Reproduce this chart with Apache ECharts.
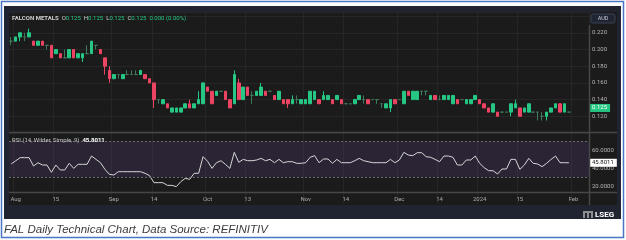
<!DOCTYPE html>
<html><head><meta charset="utf-8">
<script src="https://cdn.jsdelivr.net/npm/echarts@6/dist/echarts.min.js"></script>
<style>html,body{margin:0;padding:0;background:#fff}#c{width:626px;height:240px}</style>
</head><body><div id="c"></div>
<script>
const dates = [
'2023-07-31',
'2023-08-01','2023-08-02','2023-08-03','2023-08-04','2023-08-07','2023-08-08','2023-08-10','2023-08-11','2023-08-14','2023-08-15',
'2023-08-16','2023-08-17','2023-08-18','2023-08-21','2023-08-22','2023-08-23','2023-08-24','2023-08-25','2023-08-28','2023-08-29','2023-08-30','2023-08-31',
'2023-09-01','2023-09-04','2023-09-05','2023-09-06','2023-09-07','2023-09-08','2023-09-11','2023-09-12','2023-09-13','2023-09-14',
'2023-09-15','2023-09-18','2023-09-19','2023-09-20','2023-09-21','2023-09-22','2023-09-25','2023-09-26','2023-09-27','2023-09-28','2023-09-29',
'2023-10-02','2023-10-03','2023-10-04','2023-10-05','2023-10-06','2023-10-09','2023-10-10','2023-10-11','2023-10-12','2023-10-13',
'2023-10-16','2023-10-17','2023-10-18','2023-10-19','2023-10-20','2023-10-23','2023-10-24','2023-10-25','2023-10-26','2023-10-27','2023-10-30','2023-10-31',
'2023-11-01','2023-11-02','2023-11-03','2023-11-06','2023-11-07','2023-11-08','2023-11-09','2023-11-10','2023-11-13','2023-11-14',
'2023-11-15','2023-11-16','2023-11-17','2023-11-20','2023-11-21','2023-11-22','2023-11-24','2023-11-27','2023-11-28','2023-11-29','2023-11-30',
'2023-12-01','2023-12-04','2023-12-05','2023-12-06','2023-12-07','2023-12-08','2023-12-11','2023-12-12','2023-12-13','2023-12-14',
'2023-12-15','2023-12-18','2023-12-19','2023-12-20','2023-12-21','2023-12-27','2023-12-28','2023-12-29',
'2024-01-02','2024-01-03','2024-01-04','2024-01-05','2024-01-08','2024-01-09','2024-01-10','2024-01-11','2024-01-12','2024-01-15',
'2024-01-16','2024-01-17','2024-01-18','2024-01-19','2024-01-22','2024-01-23','2024-01-24','2024-01-25','2024-01-29','2024-01-30','2024-01-31',
'2024-02-01','2024-02-02','2024-02-05','2024-02-06'];

const open = [
0.210,0.210,0.215,0.215,0.215,0.210,0.205,0.210,0.205,0.205,
0.195,0.195,0.190,0.190,0.200,0.190,0.190,0.195,0.195,0.205,
0.200,0.190,0.175,0.165,0.170,0.165,0.170,0.170,0.170,0.170,
0.170,0.165,0.160,0.140,0.135,0.135,0.125,0.125,0.125,0.130,
0.135,0.130,0.135,0.135,0.155,0.150,0.145,0.150,0.150,0.140,
0.135,0.160,0.140,0.155,0.145,0.145,0.145,0.150,0.150,0.145,
0.140,0.140,0.140,0.135,0.140,0.135,0.135,0.135,0.140,0.140,
0.140,0.140,0.140,0.140,0.140,0.135,0.135,0.135,0.140,0.140,
0.140,0.140,0.140,0.135,0.130,0.130,0.140,0.140,0.135,0.150,
0.140,0.140,0.150,0.150,0.140,0.145,0.140,0.140,0.140,0.135,
0.140,0.140,0.135,0.135,0.140,0.140,0.135,0.130,0.125,0.125,
0.125,0.125,0.125,0.130,0.130,0.125,0.125,0.125,0.125,0.120,
0.120,0.125,0.130,0.135,0.125,0.125];
const high = [
0.215,0.215,0.220,0.220,0.225,0.210,0.210,0.210,0.205,0.205,
0.200,0.195,0.200,0.200,0.200,0.195,0.195,0.205,0.210,0.205,
0.200,0.190,0.180,0.170,0.170,0.170,0.175,0.175,0.175,0.175,
0.170,0.165,0.160,0.140,0.140,0.135,0.130,0.130,0.130,0.135,
0.140,0.135,0.150,0.160,0.155,0.150,0.150,0.150,0.150,0.140,
0.175,0.165,0.155,0.155,0.150,0.150,0.160,0.150,0.150,0.145,
0.150,0.140,0.140,0.145,0.145,0.140,0.140,0.150,0.150,0.140,
0.150,0.145,0.140,0.145,0.140,0.135,0.135,0.140,0.145,0.145,
0.140,0.140,0.140,0.135,0.135,0.140,0.140,0.140,0.150,0.150,
0.150,0.150,0.150,0.150,0.145,0.145,0.145,0.145,0.145,0.145,
0.140,0.140,0.140,0.140,0.145,0.140,0.135,0.130,0.135,0.125,
0.125,0.125,0.135,0.140,0.130,0.130,0.135,0.125,0.125,0.125,
0.125,0.130,0.135,0.135,0.135,0.125];
const low = [
0.205,0.210,0.210,0.210,0.215,0.205,0.205,0.205,0.200,0.190,
0.195,0.190,0.190,0.190,0.190,0.190,0.185,0.195,0.195,0.200,
0.195,0.170,0.160,0.165,0.165,0.165,0.170,0.170,0.170,0.170,
0.165,0.160,0.130,0.135,0.135,0.130,0.125,0.125,0.125,0.130,
0.130,0.130,0.135,0.135,0.150,0.135,0.145,0.150,0.140,0.130,
0.135,0.140,0.140,0.145,0.135,0.145,0.145,0.145,0.150,0.140,
0.140,0.135,0.130,0.135,0.135,0.135,0.135,0.135,0.140,0.135,
0.140,0.140,0.135,0.140,0.135,0.135,0.135,0.135,0.140,0.135,
0.135,0.140,0.135,0.130,0.130,0.125,0.135,0.140,0.135,0.145,
0.140,0.140,0.145,0.145,0.140,0.140,0.140,0.140,0.140,0.135,
0.135,0.140,0.135,0.135,0.140,0.135,0.130,0.125,0.125,0.120,
0.125,0.125,0.120,0.130,0.120,0.125,0.125,0.125,0.115,0.115,
0.115,0.125,0.130,0.125,0.125,0.125];
const close = [
0.210,0.215,0.220,0.215,0.220,0.205,0.210,0.205,0.205,0.190,
0.200,0.190,0.190,0.200,0.190,0.195,0.195,0.195,0.210,0.205,
0.195,0.180,0.165,0.170,0.170,0.170,0.170,0.170,0.170,0.175,
0.165,0.160,0.140,0.140,0.140,0.130,0.130,0.130,0.130,0.135,
0.130,0.135,0.140,0.160,0.150,0.135,0.150,0.150,0.140,0.130,
0.170,0.140,0.155,0.145,0.145,0.150,0.155,0.145,0.150,0.140,
0.150,0.135,0.135,0.140,0.140,0.140,0.140,0.150,0.150,0.135,
0.145,0.145,0.135,0.145,0.135,0.135,0.135,0.140,0.145,0.140,
0.135,0.140,0.140,0.135,0.135,0.140,0.135,0.140,0.150,0.145,
0.150,0.150,0.150,0.150,0.145,0.140,0.140,0.145,0.145,0.145,
0.135,0.140,0.140,0.140,0.145,0.135,0.130,0.125,0.135,0.120,
0.125,0.125,0.135,0.135,0.120,0.130,0.135,0.125,0.125,0.120,
0.125,0.130,0.135,0.125,0.135,0.125];
const rsi = [
44.5,48.0,51.5,51.5,51.5,42.2,45.9,43.3,43.3,35.2,
43.3,37.8,37.8,45.2,39.6,44.1,44.1,44.1,53.3,49.6,
45.9,38.5,33.0,32.2,35.9,35.9,35.9,35.9,35.9,35.9,
34.1,31.5,23.7,23.7,23.7,20.7,20.7,19.3,24.8,28.5,
27.4,34.1,34.1,52.6,47.5,39.6,45.9,48.1,44.1,39.6,
57.4,46.3,49.6,48.1,48.1,48.9,50.7,48.1,49.6,45.9,
49.6,45.9,47.0,47.0,45.2,45.2,45.9,51.9,53.7,45.9,
50.0,50.0,45.2,49.6,45.9,45.9,45.9,48.1,50.7,48.1,
47.0,45.9,45.9,45.9,45.9,49.6,45.9,48.9,57.4,54.4,
53.7,57.0,57.0,52.6,51.9,49.6,47.0,53.3,53.3,51.9,
43.3,43.3,48.9,48.9,53.3,45.2,40.4,37.0,37.0,33.3,
38.9,38.9,49.6,49.6,38.5,43.3,50.7,45.2,44.4,41.5,
45.2,49.6,53.3,45.9,45.9,45.8011];

const tickLabels = {
'2023-08-01':'Aug','2023-08-15':'15','2023-09-01':'Sep','2023-09-14':'14',
'2023-10-02':'Oct','2023-10-13':'13','2023-11-01':'Nov','2023-11-14':'14',
'2023-12-01':'Dec','2023-12-14':'14','2024-01-02':'2024','2024-01-15':'15','2024-02-01':'Feb'};

const priceAxis = {min:0.10, max:0.2449, interval:0.02, labelMax:0.23};
const rsiAxis = {min:0, max:80, interval:20};
const rsiBand = [30, 70];

const UP = '#26c784', DOWN = '#ec4463', DOJI = '#3f7a5c';
const FONT = 'Roboto, "Noto Sans", sans-serif';

const last = open.length - 1;
const candles = open.map((o, i) => [o, close[i], low[i], high[i]]);
const chg = close[last] - open[last];
const pct = open[last] ? chg / open[last] * 100 : 0;
const isTick = (idx, val) => tickLabels[val] !== undefined;

const chart = echarts.init(document.getElementById('c'), null, {renderer: 'canvas'});
chart.setOption({
  animation: false,
  backgroundColor: '#ffffff',
  textStyle: {fontFamily: FONT},
  grid: [
    {left: 9, top: 12, width: 580, height: 121},
    {left: 9, top: 132, width: 580, height: 72}
  ],
  xAxis: [
    {type: 'category', gridIndex: 0, data: dates, boundaryGap: true,
     axisLine: {show: false}, axisTick: {show: false}, axisLabel: {show: false},
     splitLine: {show: true, interval: isTick, lineStyle: {color: '#262626', width: 1}}},
    {type: 'category', gridIndex: 1, data: dates, boundaryGap: true, offset: -12,
     axisLine: {show: false}, axisTick: {show: false},
     axisLabel: {show: true, interval: isTick, formatter: v => tickLabels[v] || '',
                 color: '#a9a9a9', fontSize: 6, margin: 4, fontFamily: FONT},
     splitLine: {show: true, interval: isTick, lineStyle: {color: '#262626', width: 1}}}
  ],
  yAxis: [
    {type: 'value', gridIndex: 0, position: 'right', scale: true,
     min: priceAxis.min, max: priceAxis.max, interval: priceAxis.interval,
     axisLine: {show: false}, axisTick: {show: false},
     axisLabel: {color: '#b5b5b5', fontSize: 6, margin: 3, showMinLabel: false, showMaxLabel: false,
                 formatter: v => v > priceAxis.labelMax ? '' : v.toFixed(3), fontFamily: FONT},
     splitLine: {lineStyle: {color: '#262626', width: 1}}},
    {type: 'value', gridIndex: 1, position: 'right',
     min: rsiAxis.min, max: rsiAxis.max, interval: rsiAxis.interval,
     axisLine: {show: false}, axisTick: {show: false},
     axisLabel: {color: '#b5b5b5', fontSize: 6, margin: 3, showMinLabel: false, showMaxLabel: false,
                 formatter: v => v.toFixed(4), fontFamily: FONT},
     splitLine: {show: false}}
  ],
  series: [
    {type: 'candlestick', xAxisIndex: 0, yAxisIndex: 0, data: candles, barWidth: 3,
     itemStyle: {color: UP, color0: DOWN, borderColor: UP, borderColor0: DOWN,
                 borderColorDoji: DOJI, borderWidth: 1},
     markLine: {symbol: 'none', silent: true, animation: false,
       lineStyle: {color: 'rgba(0,0,0,0)', width: 0},
       label: {position: 'end', distance: 0, formatter: close[last].toFixed(3),
               backgroundColor: UP, color: '#ffffff', fontSize: 6, padding: [1, 3, 1, 3],
               fontFamily: FONT},
       data: [{yAxis: close[last]}]}},
    {type: 'line', xAxisIndex: 1, yAxisIndex: 1, data: rsi, showSymbol: false, symbol: 'none',
     lineStyle: {color: '#d6d6d6', width: 1}, z: 4,
     markArea: {silent: true, itemStyle: {color: 'rgba(126,87,194,0.16)'},
       data: [[{yAxis: rsiBand[0]}, {yAxis: rsiBand[1]}]]},
     markLine: {symbol: 'none', silent: true, animation: false,
       data: [
         {yAxis: rsiBand[1], lineStyle: {color: '#6a6a6a', type: [2, 2], width: 1}, label: {show: false}},
         {yAxis: rsiBand[0], lineStyle: {color: '#6a6a6a', type: [2, 2], width: 1}, label: {show: false}},
         {yAxis: rsi[last], lineStyle: {color: 'rgba(0,0,0,0)', width: 0},
          label: {show: true, position: 'end', distance: 0, formatter: rsi[last].toFixed(4),
                  backgroundColor: '#ffffff', color: '#202020', fontSize: 6, padding: [1, 3, 1, 3],
                  fontFamily: FONT}}
       ]}}
  ],
  graphic: [
    {type: 'rect', z: -30, shape: {x: 1.5, y: 1.5, width: 622, height: 236},
     style: {fill: '#ffffff', stroke: '#4a76c4', lineWidth: 1.5}},
    {type: 'rect', z: -20, shape: {x: 4, y: 6, width: 617, height: 213}, style: {fill: '#1f2430'}},
    {type: 'rect', z: -10, shape: {x: 9, y: 12, width: 608, height: 193}, style: {fill: '#1b1b1b'}},
    {type: 'line', z: 10, shape: {x1: 9, y1: 132.5, x2: 617, y2: 132.5}, style: {stroke: '#474747', lineWidth: 1.5}},
    {type: 'line', z: 10, shape: {x1: 9, y1: 192.5, x2: 617, y2: 192.5}, style: {stroke: '#474747', lineWidth: 1.5}},
    {type: 'line', z: 10, shape: {x1: 589.5, y1: 25, x2: 589.5, y2: 205}, style: {stroke: '#474747', lineWidth: 1.5}},
    {type: 'text', z: 20, x: 12, y: 18,
     style: {text: '{n|FALCON METALS}  {l|O}{v|' + open[last].toFixed(3) + '}  {l|H}{v|' + high[last].toFixed(3) +
             '}  {l|L}{v|' + low[last].toFixed(3) + '}  {l|C}{v|' + close[last].toFixed(3) + '}  {v|' +
             chg.toFixed(3) + ' (' + pct.toFixed(2) + '%)}',
             verticalAlign: 'middle', font: '6px ' + FONT,
             rich: {n: {fill: '#cfcfcf', fontSize: 6, fontWeight: 'bold', fontFamily: FONT},
                    l: {fill: '#cfcfcf', fontSize: 6, fontFamily: FONT},
                    v: {fill: UP, fontSize: 6, fontFamily: FONT}}}},
    {type: 'text', z: 20, x: 12, y: 140,
     style: {text: '{l|RSI (14, Wilder, Simple, 9)}  {v|' + rsi[last].toFixed(4) + '}',
             verticalAlign: 'middle', font: '6px ' + FONT,
             rich: {l: {fill: '#c4c4c4', fontSize: 6, fontFamily: FONT},
                    v: {fill: '#ffffff', fontSize: 6, fontWeight: 'bold', fontFamily: FONT}}}},
    {type: 'rect', z: 20, shape: {x: 591, y: 14, width: 24, height: 9, r: 2},
     style: {fill: '#1f2533', stroke: '#3a4254', lineWidth: 1}},
    {type: 'text', z: 21, x: 603, y: 18.5,
     style: {text: 'AUD', fill: '#c9ced8', font: '5.5px ' + FONT, align: 'center', verticalAlign: 'middle'}},
    {type: 'rect', z: 20, shape: {x: 583, y: 211, width: 10, height: 7}, style: {fill: '#8d8d8d'}},
    {type: 'rect', z: 21, shape: {x: 585, y: 213, width: 2, height: 5}, style: {fill: '#1f2430'}},
    {type: 'rect', z: 21, shape: {x: 589, y: 213, width: 2, height: 5}, style: {fill: '#1f2430'}},
    {type: 'text', z: 20, x: 595, y: 214.5,
     style: {text: 'LSEG', fill: '#ffffff', font: 'bold 8px ' + FONT, verticalAlign: 'middle'}},
    {type: 'text', z: 20, x: 4, y: 230,
     style: {text: 'FAL Daily Technical Chart, Data Source: REFINITIV', fill: '#3c3c3c',
             font: 'italic 11.5px "Liberation Sans", Arial, sans-serif', verticalAlign: 'middle'}}
  ]
});
</script></body></html>
